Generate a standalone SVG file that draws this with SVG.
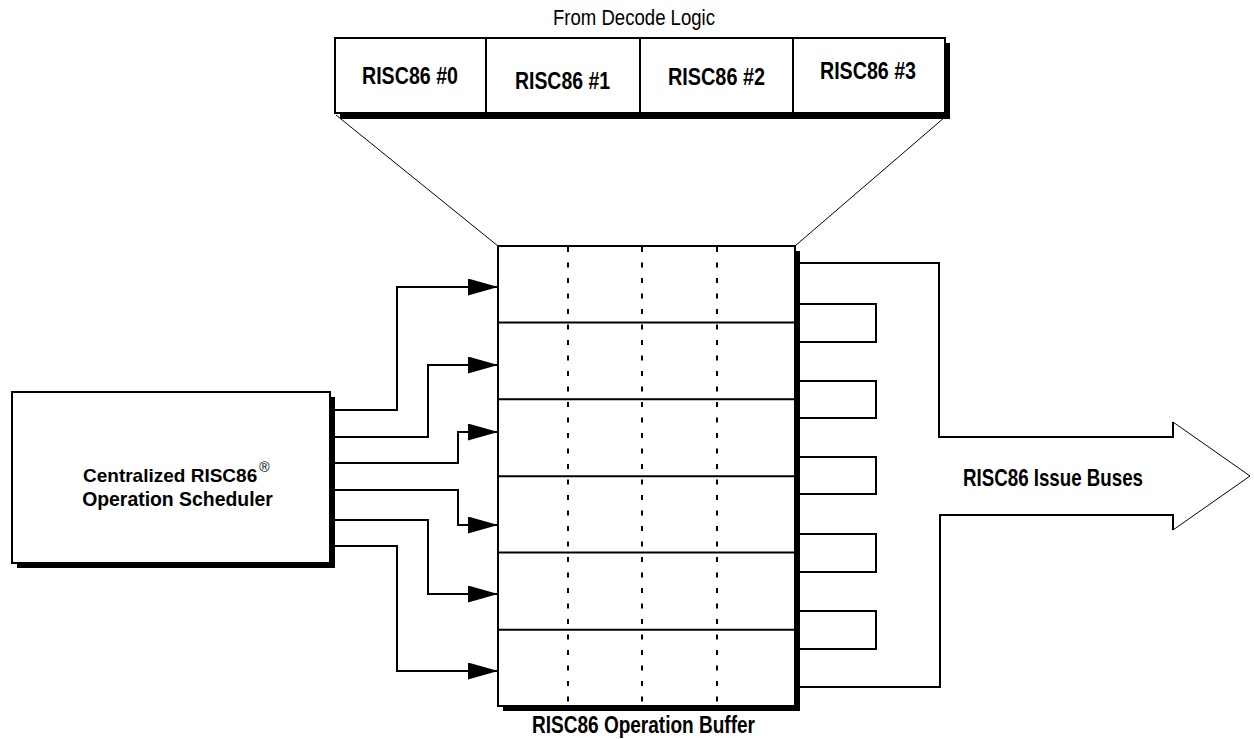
<svg xmlns="http://www.w3.org/2000/svg" width="1254" height="739" viewBox="0 0 1254 739">
<style>
  .b { font-family: "Liberation Sans", Arial, sans-serif; font-weight: bold; font-size: 24px; fill: #000; }
  .s { font-family: "Liberation Sans", Arial, sans-serif; font-weight: bold; font-size: 19px; fill: #000; }
  .r { font-family: "Liberation Sans", Arial, sans-serif; font-size: 22px; fill: #000; }
  .box { fill: #fff; stroke: #000; stroke-width: 2; }
  .shadow { fill: #000; }
  .ln { fill: none; stroke: #000; stroke-width: 2; }
  .thin { fill: none; stroke: #000; stroke-width: 1; }
  .dash { fill: none; stroke: #000; stroke-width: 2; stroke-dasharray: 5 10.5; }
</style>
<defs>
  <marker id="ah" markerUnits="userSpaceOnUse" markerWidth="30" markerHeight="17" refX="30" refY="8.5" orient="auto">
    <path d="M0,0 L30,8.5 L0,17 z" fill="#000"/>
  </marker>
</defs>
<rect width="1254" height="739" fill="#fff"/>

<text class="r" x="634" y="25" text-anchor="middle" textLength="162" lengthAdjust="spacingAndGlyphs">From Decode Logic</text>

<g id="decode-slots">
  <rect class="shadow" x="340" y="43" width="610" height="76"/>
  <rect class="box" x="335" y="38" width="610" height="75"/>
  <line class="ln" x1="486" y1="38" x2="486" y2="113"/>
  <line class="ln" x1="640" y1="38" x2="640" y2="113"/>
  <line class="ln" x1="793" y1="38" x2="793" y2="113"/>
  <text class="b" x="410" y="84" text-anchor="middle" textLength="96" lengthAdjust="spacingAndGlyphs">RISC86 #0</text>
  <text class="b" x="562.5" y="89" text-anchor="middle" textLength="95" lengthAdjust="spacingAndGlyphs">RISC86 #1</text>
  <text class="b" x="716.5" y="85" text-anchor="middle" textLength="97" lengthAdjust="spacingAndGlyphs">RISC86 #2</text>
  <text class="b" x="868" y="79" text-anchor="middle" textLength="96" lengthAdjust="spacingAndGlyphs">RISC86 #3</text>
</g>

<g id="funnel">
  <line class="thin" x1="336" y1="115" x2="498" y2="246"/>
  <line class="thin" x1="945" y1="117" x2="795" y2="246"/>
</g>

<g id="scheduler">
  <rect class="shadow" x="17" y="397" width="318" height="171"/>
  <rect class="box" x="12" y="392" width="318" height="171"/>
  <text class="s" x="83" y="482">Centralized RISC86<tspan dx="2" dy="-10" style="font-size:14px;font-weight:normal">®</tspan></text>
  <text class="s" x="177.5" y="506" text-anchor="middle" style="font-size:19.4px">Operation Scheduler</text>
</g>

<g id="buffer">
  <rect class="shadow" x="503" y="251" width="297" height="460"/>
  <rect class="box" x="498" y="246" width="297" height="460"/>
  <line class="ln" x1="498" y1="322.5" x2="795" y2="322.5"/>
  <line class="ln" x1="498" y1="399.3" x2="795" y2="399.3"/>
  <line class="ln" x1="498" y1="476.3" x2="795" y2="476.3"/>
  <line class="ln" x1="498" y1="552.5" x2="795" y2="552.5"/>
  <line class="ln" x1="498" y1="629.8" x2="795" y2="629.8"/>
  <line class="dash" x1="568" y1="247" x2="568" y2="705"/>
  <line class="dash" x1="642" y1="247" x2="642" y2="705"/>
  <line class="dash" x1="717" y1="247" x2="717" y2="705"/>
  <text class="b" x="643.5" y="733" text-anchor="middle" textLength="223" lengthAdjust="spacingAndGlyphs">RISC86 Operation Buffer</text>
</g>

<g id="issue-buses">
  <path class="ln" d="M800,263 H939 V437 H1173 V422"/>
  <path class="thin" d="M1173,422 L1250,476 L1173,530"/>
  <path class="ln" d="M1173,530 V515 H940 V687 H800"/>
  <path class="ln" d="M800,304 H876 V342 H800"/>
  <path class="ln" d="M800,381 H876 V418 H800"/>
  <path class="ln" d="M800,457 H876 V494 H800"/>
  <path class="ln" d="M800,534 H876 V572 H800"/>
  <path class="ln" d="M800,611 H876 V649 H800"/>
  <text class="b" x="1053" y="486" text-anchor="middle" textLength="180" lengthAdjust="spacingAndGlyphs">RISC86 Issue Buses</text>
</g>

<g id="connectors">
  <path class="ln" d="M335,410 H397 V287 H498" marker-end="url(#ah)"/>
  <path class="ln" d="M335,437 H428 V365 H498" marker-end="url(#ah)"/>
  <path class="ln" d="M335,463 H458 V432 H498" marker-end="url(#ah)"/>
  <path class="ln" d="M335,490 H458 V525 H498" marker-end="url(#ah)"/>
  <path class="ln" d="M335,520 H428 V594 H498" marker-end="url(#ah)"/>
  <path class="ln" d="M335,546 H397 V671 H498" marker-end="url(#ah)"/>
</g>
</svg>
